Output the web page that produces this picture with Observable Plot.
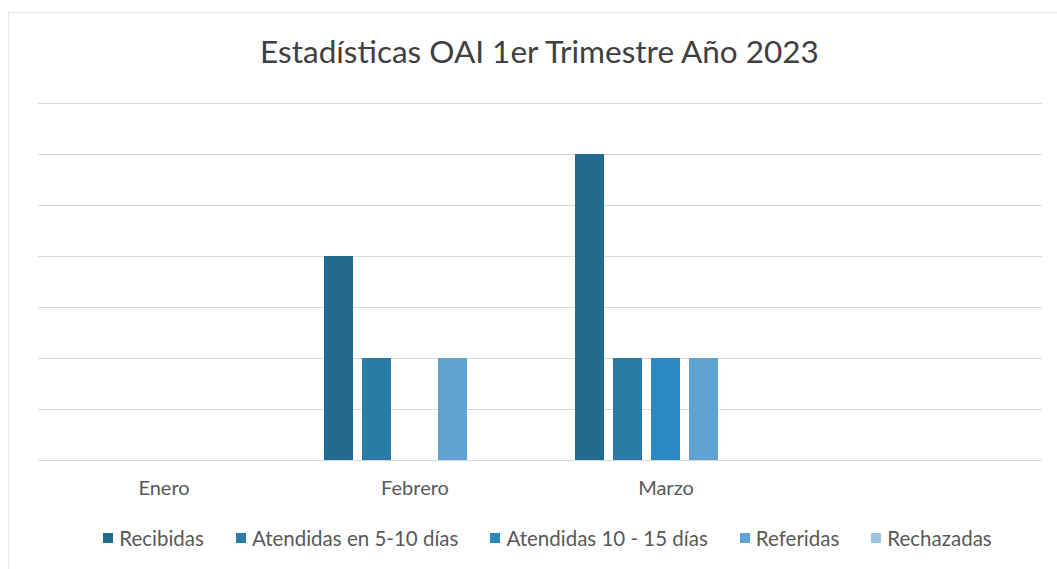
<!DOCTYPE html>
<html>
<head>
<meta charset="utf-8">
<script src="https://cdn.jsdelivr.net/npm/d3@7"></script>
<script src="https://cdn.jsdelivr.net/npm/@observablehq/plot@0.6"></script>
<style>
  html, body { margin: 0; padding: 0; background: #ffffff; }
  #wrap { position: relative; width: 1057px; height: 569px; overflow: hidden; font-family: Lato, "Open Sans", sans-serif; color: #595959; }
  #frame { position: absolute; left: 8px; top: 12px; width: 1100px; height: 600px; border: 1px solid #e6e6e6; box-sizing: border-box; }
  #title { position: absolute; left: 0; top: 0; width: 1057px; height: 80px; padding-left: 22px; box-sizing: border-box; text-align: center; font-size: 31.5px; line-height: 102px; color: #404040; }
  #chart { position: absolute; left: 0; top: 80px; }
  #legend { position: absolute; left: 0; top: 526px; width: 1057px; padding-left: 38px; box-sizing: border-box; display: flex; justify-content: center; gap: 32px; font-size: 20.5px; }
  .item { display: flex; align-items: center; gap: 6px; white-space: nowrap; }
  .sw { width: 10px; height: 10px; display: inline-block; }
</style>
</head>
<body>
<div id="wrap">
  <div id="frame"></div>
  <div id="title">Estadísticas OAI 1er Trimestre Año 2023</div>
  <div id="chart"></div>
  <div id="legend"></div>
</div>
<script>
const meses = ["Enero", "Febrero", "Marzo", ""];
const series = ["Recibidas", "Atendidas en 5-10 días", "Atendidas 10 - 15 días", "Referidas", "Rechazadas"];
const recibidas = [0, 4, 6, 0];
const atendidas5a10 = [0, 2, 2, 0];
const atendidas10a15 = [0, 0, 2, 0];
const referidas = [0, 2, 2, 0];
const rechazadas = [0, 0, 0, 0];
const colores = ["#216c8e", "#2a7ca6", "#2a88c2", "#5fa3d2", "#9cc4e3"];
const yTicks = [0, 1, 2, 3, 4, 5, 6, 7];

const valores = [recibidas, atendidas5a10, atendidas10a15, referidas, rechazadas];
const datos = [];
meses.forEach((m, i) => series.forEach((s, j) => datos.push({mes: m, serie: s, valor: valores[j][i]})));

const chart = Plot.plot({
  width: 1057,
  height: 420,
  marginTop: 23,
  marginBottom: 40,
  marginLeft: 37,
  marginRight: 14,
  style: {fontFamily: "Lato, 'Open Sans', sans-serif", fontSize: "20px", color: "#595959", background: "transparent"},
  fx: {domain: meses, padding: 0, label: null, axis: "bottom", tickSize: 0, tickPadding: 20},
  x: {domain: series, paddingInner: 0.226, paddingOuter: 0.86, axis: null},
  y: {domain: [0, 7], axis: null},
  color: {domain: series, range: colores},
  marks: [
    Plot.ruleY(yTicks, {stroke: "#d9d9d9", strokeWidth: 1.2}),
    Plot.barY(datos, {fx: "mes", x: "serie", y: "valor", fill: "serie"})
  ]
});
document.getElementById("chart").appendChild(chart);

const legend = document.getElementById("legend");
series.forEach((s, i) => {
  const it = document.createElement("div");
  it.className = "item";
  const sw = document.createElement("span");
  sw.className = "sw";
  sw.style.background = colores[i];
  const t = document.createElement("span");
  t.textContent = s;
  it.appendChild(sw);
  it.appendChild(t);
  legend.appendChild(it);
});
</script>
</body>
</html>
